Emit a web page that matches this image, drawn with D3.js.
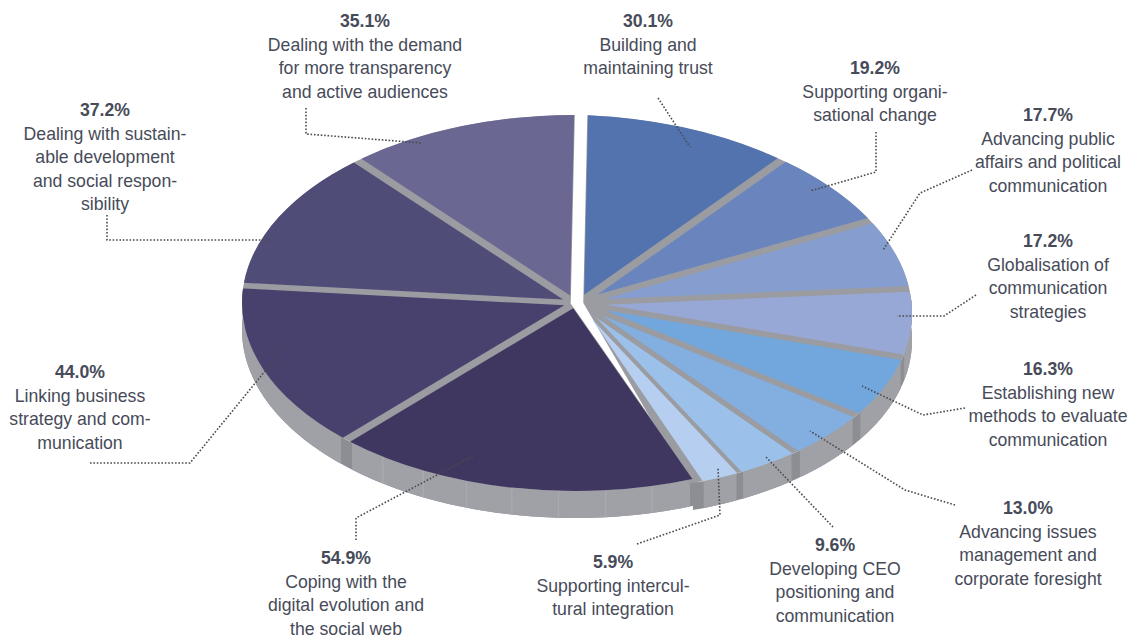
<!DOCTYPE html>
<html>
<head>
<meta charset="utf-8">
<script src="https://cdnjs.cloudflare.com/ajax/libs/d3/7.8.5/d3.min.js"></script>
<style>
html,body{margin:0;padding:0;background:#fff;}
svg{display:block;}
text{font-family:"Liberation Sans","Roboto",sans-serif;fill:#474b59;font-size:18.6px;text-anchor:middle;}
</style>
</head>
<body>
<svg id="chart" width="1137" height="638"></svg>
<script>
// ---- data ----
const percentages = [30.1, 19.2, 17.7, 17.2, 16.3, 13.0, 9.6, 5.9, 54.9, 44.0, 37.2, 35.1];
const labelLines = [
  ["Building and", "maintaining trust"],
  ["Supporting organi-", "sational change"],
  ["Advancing public", "affairs and political", "communication"],
  ["Globalisation of", "communication", "strategies"],
  ["Establishing new", "methods to evaluate", "communication"],
  ["Advancing issues", "management and", "corporate foresight"],
  ["Developing CEO", "positioning and", "communication"],
  ["Supporting intercul-", "tural integration"],
  ["Coping with the", "digital evolution and", "the social web"],
  ["Linking business", "strategy and com-", "munication"],
  ["Dealing with sustain-", "able development", "and social respon-", "sibility"],
  ["Dealing with the demand", "for more transparency", "and active audiences"]
];
const sliceColors = ["#5373ae","#6a85bd","#859dcf","#97a8d6","#71a7dd","#82aee0","#9bc0e9","#b6cff0","#403761","#48406d","#504c78","#6a6792"];

// ---- layout ----
const W = 1137, H = 638;
const cx = 577, cy = 303, R = 333, ry = 188, depth = 27;
const squash = ry / R;
const rimTop = "#9a9ca1", wallBase = "#8c8e93", wallFill = "#9fa1a6", facet = "#aeb0b4";
const groupShift = i => i < 8 ? 2 : -2;
const groupSkew = i => i < 8 ? 0.03 : 0;
const textSqueeze = 0.95;
// label anchor: centre x and first line's y
const labelPos = [[648,27],[875,74],[1048,121],[1048,247],[1048,375],[1028,514],[835,551],[613,568],[346,564],[80,378],[105,116],[365,27]];
const lineH = 23.6;
const leaders = [
  [[658,98],[690,147]],
  [[876,132],[876,172],[810,191]],
  [[972,170],[920,193],[883,250]],
  [[976,295],[944,316],[897,316]],
  [[965,408],[923,415],[862,386]],
  [[955,505],[905,490],[810,431]],
  [[833,527],[765,456]],
  [[637,544],[720,515],[718,467]],
  [[356,540],[356,518],[473,456]],
  [[90,463],[190,463],[283,349]],
  [[107,215],[107,240],[272,240]],
  [[306,108],[306,134],[422,143]]
];

const svg = d3.select("#chart");
const deg = Math.PI / 180;
// the right-hand and left-hand slice groups each fill their own part of the ring
const pieFor = (a0, a1) => d3.pie().value(d => d).sort(null).startAngle(a0 * deg).endAngle(a1 * deg);
const arcsData = pieFor(0.7, 158.5)(percentages.slice(0, 8))
  .concat(pieFor(158.5, 360.7)(percentages.slice(8)));

const padW = v => Math.min(10, v * 0.65);
const innerFor = d => padW(d.value) / (2 * Math.sin((d.endAngle - d.startAngle) / 2));
const topArc = d3.arc()
  .outerRadius(R)
  .innerRadius(innerFor)
  .padRadius(R)
  .padAngle(d => padW(d.value) / R);

const planeTransform = i => `matrix(1,${groupSkew(i)},0,${squash},${cx + groupShift(i)},${cy})`;
const project = (a, dy, i) => {
  const dx = R * Math.sin(a);
  return [cx + groupShift(i) + dx, cy - R * squash * Math.cos(a) + groupSkew(i) * dx + dy];
};
const line = d3.line();
function wallPath(a0, a1, i) {
  const lo = Math.max(a0, Math.PI * 0.47), hi = Math.min(a1, Math.PI * 1.53);
  if (hi <= lo) return null;
  const angles = d3.range(0, 41).map(k => lo + (hi - lo) * k / 40);
  const up = angles.map(a => project(a, 0, i));
  const dn = angles.slice().reverse().map(a => project(a, depth, i));
  return line(up.concat(dn)) + "Z";
}

// side walls: darker backing for each half, then each slice's wall
const groupA = arcsData.slice(0, 8), groupB = arcsData.slice(8);
[[groupA, 0, 1.5 * deg], [groupB, 8, 0]].forEach(([g, off, extra]) => {
  svg.append("path").attr("d", wallPath(g[0].startAngle, g[g.length - 1].endAngle + extra, off)).attr("fill", wallBase);
});
arcsData.forEach((d, i) => {
  const p = padW(d.value) / R * 0.75;
  const path = wallPath(d.startAngle + p, d.endAngle - p, i);
  if (path) svg.append("path").attr("d", path).attr("fill", wallFill);
});
// faint facet seams on the big front wall
const big = arcsData[8];
d3.range(1, 8).forEach(k => {
  const a = big.startAngle + (big.endAngle - big.startAngle) * k / 8;
  const t = project(a, 0, 8), b = project(a, depth, 8);
  svg.append("line").attr("x1", t[0]).attr("x2", b[0]).attr("y1", t[1]).attr("y2", b[1])
    .attr("stroke", facet).attr("stroke-width", 0.8);
});

// grey top surface under the coloured slices
[[groupA, 0, 3 * deg], [groupB, 8, 0]].forEach(([g, off, extra]) => {
  const baseArc = d3.arc().outerRadius(R).innerRadius(4.5).padRadius(R).padAngle(8.5 / R);
  svg.append("g").attr("transform", planeTransform(off))
    .append("path")
    .attr("d", baseArc({startAngle: g[0].startAngle, endAngle: g[g.length - 1].endAngle + extra}))
    .attr("fill", rimTop);
});

// coloured slices
svg.selectAll("g.slice").data(arcsData).join("g")
  .attr("class", "slice")
  .attr("transform", (d, i) => planeTransform(i))
  .append("path")
  .attr("d", topArc)
  .attr("fill", (d, i) => sliceColors[i]);

// leader lines
svg.selectAll("path.leader").data(leaders).join("path")
  .attr("class", "leader")
  .attr("d", d => line(d))
  .attr("fill", "none")
  .attr("stroke", "#4a4a50")
  .attr("stroke-width", 1.6)
  .attr("stroke-dasharray", "1.6 1.8");

// labels
percentages.forEach((v, i) => {
  const [x, y] = labelPos[i];
  const g = svg.append("g").attr("transform", `translate(${x},${y}) scale(${textSqueeze},1)`);
  g.append("text").attr("font-weight", "bold").text(v.toFixed(1) + "%");
  labelLines[i].forEach((s, k) => {
    g.append("text").attr("y", lineH * (k + 1)).text(s);
  });
});
</script>
</body>
</html>
